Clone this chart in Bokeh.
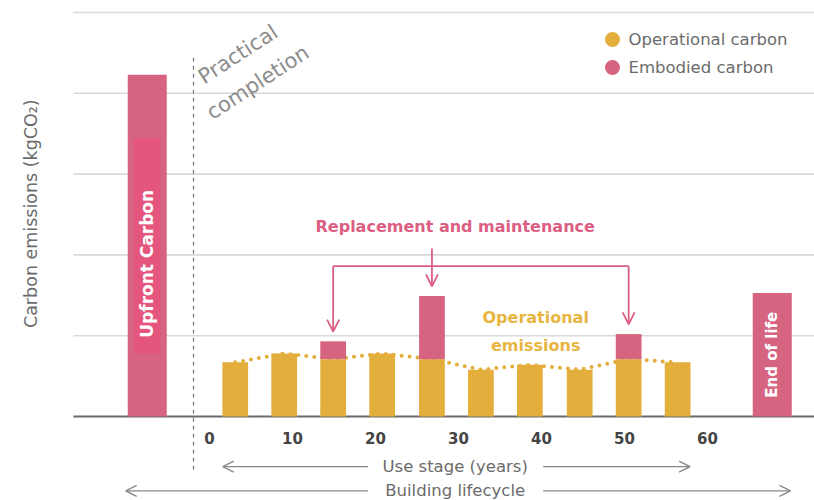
from bokeh.plotting import figure
from bokeh.models import (Range1d, Label, Arrow, OpenHead, ColumnDataSource)
from bokeh.core.properties import value
from bokeh.embed import file_html
from bokeh.resources import INLINE

# ---------------- data ----------------
use_positions = [3.1, 9.0, 14.9, 20.8, 26.8, 32.7, 38.6, 44.6, 50.5, 56.4]   # years
operational = [0.67, 0.78, 0.71, 0.78, 0.71, 0.58, 0.64, 0.58, 0.71, 0.67]
embodied = [0.0, 0.0, 0.22, 0.0, 0.78, 0.0, 0.0, 0.0, 0.31, 0.0]
upfront_pos, upfront_val = -7.5, 4.23
eol_pos, eol_val = 67.8, 1.53
year_ticks = [0, 10, 20, 30, 40, 50, 60]
grid_levels = [1, 2, 3, 4, 5]
legend_labels = ["Operational carbon", "Embodied carbon"]

YELLOW = "#E3AE3C"
PINK = "#D6637F"
PINK_HI = "#E5567E"
PINK_TXT = "#DC5E82"
GRAY = "#6b6b6b"
FONT = "DejaVu Sans"

X0, X1 = -25.18, 72.89
GRID_LEFT = -16.39

p = figure(width=814, height=500, output_backend="svg", toolbar_location=None,
           x_range=Range1d(X0, X1), y_range=Range1d(-1.0396, 5.1485),
           min_border_left=0, min_border_right=0, min_border_top=0, min_border_bottom=0)
p.outline_line_color = None
p.background_fill_color = "white"
p.xaxis.visible = False
p.yaxis.visible = False
p.xgrid.visible = False
p.ygrid.visible = False

# gridlines + baseline
p.segment(x0=[GRID_LEFT] * len(grid_levels), y0=grid_levels, x1=[X1] * len(grid_levels),
          y1=grid_levels, line_color="#d9d9d9", line_width=1.6)
p.segment(x0=[GRID_LEFT], y0=[0], x1=[X1], y1=[0], line_color="#6a6a6a", line_width=2)

bw = 3.1
tops = [o + e for o, e in zip(operational, embodied)]
src = ColumnDataSource(dict(x=use_positions, op=operational, top=tops))

# dotted operational trend line (under bars)
p.line(use_positions, operational, line_color=YELLOW, line_width=4, line_dash="0 8",
       line_cap="round")

# bars
p.vbar(x="x", width=bw, bottom=0, top="op", source=src, fill_color=YELLOW, line_color=None)
p.vbar(x="x", width=bw, bottom="op", top="top", source=src, fill_color=PINK, line_color=None)
p.vbar(x=[upfront_pos], width=4.7, bottom=0, top=[upfront_val], fill_color=PINK, line_color=None)
p.quad(left=[upfront_pos - 1.6], right=[upfront_pos + 1.6], bottom=[0.78], top=[3.44],
       fill_color=PINK_HI, line_color=None)
p.vbar(x=[eol_pos], width=4.7, bottom=0, top=[eol_val], fill_color=PINK, line_color=None)

# practical completion dashed line
p.segment(x0=[-1.93], y0=[4.44], x1=[-1.93], y1=[-0.68], line_color="#777777",
          line_width=1.2, line_dash="4 4")
p.add_layout(Label(x=-1.1, y=4.18, text="Practical", angle=33, angle_units="deg",
                   text_font=FONT, text_font_size="21px", text_color="#8c8c8c",
                   text_baseline="alphabetic", text_align="left"))
p.add_layout(Label(x=-0.1, y=3.74, text="completion", angle=33, angle_units="deg",
                   text_font=FONT, text_font_size="21px", text_color="#8c8c8c",
                   text_baseline="alphabetic", text_align="left"))

# bar labels
p.add_layout(Label(x=upfront_pos, y=1.89, text="Upfront Carbon", angle=90, angle_units="deg",
                   text_font=FONT, text_font_style="bold", text_font_size="17px",
                   text_color="white", text_align="center", text_baseline="middle"))
p.add_layout(Label(x=eol_pos, y=eol_val / 2, text="End of life", angle=90, angle_units="deg",
                   text_font=FONT, text_font_style="bold", text_font_size="15px",
                   text_color="white", text_align="center", text_baseline="middle"))

# replacement & maintenance annotation
rep_idx = [i for i, e in enumerate(embodied) if e > 0]
left_x, right_x = use_positions[rep_idx[0]], use_positions[rep_idx[-1]]
bracket_y = 1.86
p.add_layout(Label(x=29.6, y=2.35, text="Replacement and maintenance", text_font=FONT,
                   text_font_style="bold", text_font_size="16px", text_color=PINK_TXT,
                   text_align="center", text_baseline="middle"))
p.segment(x0=[left_x], y0=[bracket_y], x1=[right_x], y1=[bracket_y], line_color=PINK_TXT,
          line_width=1.8)
for i in rep_idx:
    start_y = 2.08 if i == rep_idx[1] else bracket_y
    p.add_layout(Arrow(x_start=use_positions[i], y_start=start_y, x_end=use_positions[i],
                       y_end=tops[i] + 0.12, line_color=PINK_TXT, line_width=1.8,
                       end=OpenHead(size=12, line_color=PINK_TXT, line_width=1.8)))

# operational emissions text
p.add_layout(Label(x=39.3, y=1.23, text="Operational", text_font=FONT, text_font_style="bold",
                   text_font_size="16px", text_color="#E8B540", text_align="center",
                   text_baseline="middle"))
p.add_layout(Label(x=39.3, y=0.88, text="emissions", text_font=FONT, text_font_style="bold",
                   text_font_size="16px", text_color="#E8B540", text_align="center",
                   text_baseline="middle"))

# x tick labels
p.text(x=year_ticks, y=[-0.27] * len(year_ticks), text=[str(t) for t in year_ticks],
       text_font=value(FONT), text_font_style="bold", text_font_size="15px",
       text_color="#444444", text_align="center", text_baseline="middle")

# stage arrows
def two_way(x_left, x_right, y, label, gap_l, gap_r):
    p.add_layout(Label(x=29.6, y=y, text=label, text_font=FONT, text_font_size="16.5px",
                       text_color=GRAY, text_align="center", text_baseline="middle"))
    for xs, xe in ((gap_l, x_left), (gap_r, x_right)):
        p.add_layout(Arrow(x_start=xs, y_start=y, x_end=xe, y_end=y, line_color="#888888",
                           line_width=1.4,
                           end=OpenHead(size=11, line_color="#888888", line_width=1.4)))

two_way(1.6, 57.9, -0.62, "Use stage (years)", 19.1, 40.2)
two_way(-10.1, 70.0, -0.92, "Building lifecycle", 19.1, 40.2)

# y-axis title
p.add_layout(Label(x=-21.45, y=2.51, text="Carbon emissions (kgCO\u2082)", angle=90,
                   angle_units="deg", text_font=FONT, text_font_size="17.5px",
                   text_color=GRAY, text_align="center", text_baseline="middle"))

# legend (drawn manually so the markers keep their size)
leg_y = [4.666, 4.319]
p.scatter(x=[48.55] * 2, y=leg_y, marker="circle", size=15, fill_color=[YELLOW, PINK],
          line_color=None)
p.text(x=[50.48] * 2, y=leg_y, text=legend_labels, text_font=value(FONT),
       text_font_size="16.5px", text_color=GRAY, text_align="left", text_baseline="middle")

open("out.html", "w").write(file_html(p, INLINE))
